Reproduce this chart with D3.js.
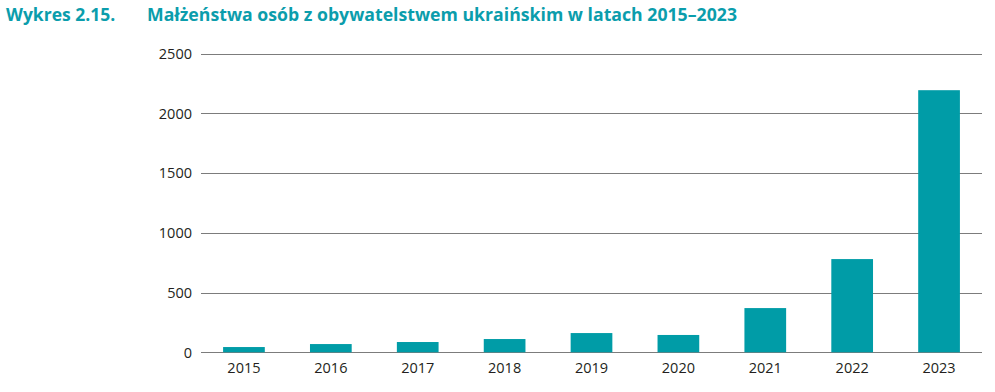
<!DOCTYPE html>
<html><head><meta charset="utf-8">
<script src="https://cdn.jsdelivr.net/npm/d3@7"></script>
<style>
html,body{margin:0;padding:0;background:#fff;}
svg{display:block;}
</style></head>
<body>
<script>
const years = ["2015","2016","2017","2018","2019","2020","2021","2022","2023"];
const marriages = [44, 69, 86, 111, 161, 145, 370, 780, 2193];
const yTicks = [0, 500, 1000, 1500, 2000, 2500];
const titleLabel = "Wykres 2.15.";
const titleText = "Małżeństwa osób z obywatelstwem ukraińskim w latach 2015–2023";

const W = 995, H = 392;
const svg = d3.select("body").append("svg").attr("width", W).attr("height", H);

const x = d3.scaleBand().domain(years).range([200.5, 982.5]).paddingInner(0.52).paddingOuter(0.26);
const y = d3.scaleLinear().domain([0, 2500]).range([352.3, 53.5]);

const teal = "#009ca7";
const font = "'Open Sans', sans-serif";

// title
svg.append("text").attr("x", 6).attr("y", 21)
  .attr("font-family", font).attr("font-weight", 700).attr("font-size", 17.5)
  .attr("fill", "#0b9dac").text(titleLabel);
svg.append("text").attr("x", 147).attr("y", 21)
  .attr("font-family", font).attr("font-weight", 700).attr("font-size", 17.5)
  .attr("fill", "#0b9dac").attr("textLength", 590).attr("lengthAdjust", "spacingAndGlyphs")
  .text(titleText);

// gridlines
const grid = svg.append("g").attr("class", "grid");
grid.selectAll("line").data(yTicks).join("line")
  .attr("x1", 201).attr("x2", 982)
  .attr("y1", d => Math.round(y(d)) + 0.5).attr("y2", d => Math.round(y(d)) + 0.5)
  .attr("stroke", "#7c7c7c").attr("stroke-width", 1.2);

// y axis labels
const yAxis = d3.axisLeft(y).tickValues(yTicks).tickSize(0).tickPadding(0).tickFormat(d3.format("d"));
const gy = svg.append("g").attr("transform", "translate(192,0)").call(yAxis);
gy.select(".domain").remove();
gy.selectAll("text").attr("font-family", font).attr("font-size", 14.5).attr("fill", "#231f20").attr("dy", "0.34em");

// bars
svg.append("g").selectAll("rect").data(years).join("rect")
  .attr("x", d => x(d)).attr("width", x.bandwidth())
  .attr("y", (d, i) => y(marriages[i]))
  .attr("height", (d, i) => y(0) - y(marriages[i]))
  .attr("fill", teal);

// x axis labels
const xAxis = d3.axisBottom(x).tickSize(0).tickPadding(0);
const gx = svg.append("g").attr("transform", "translate(0,373)").call(xAxis);
gx.select(".domain").remove();
gx.selectAll("text").attr("font-family", font).attr("font-size", 14.5).attr("fill", "#231f20").attr("dy", 0).attr("y", 0);
</script>
</body></html>
